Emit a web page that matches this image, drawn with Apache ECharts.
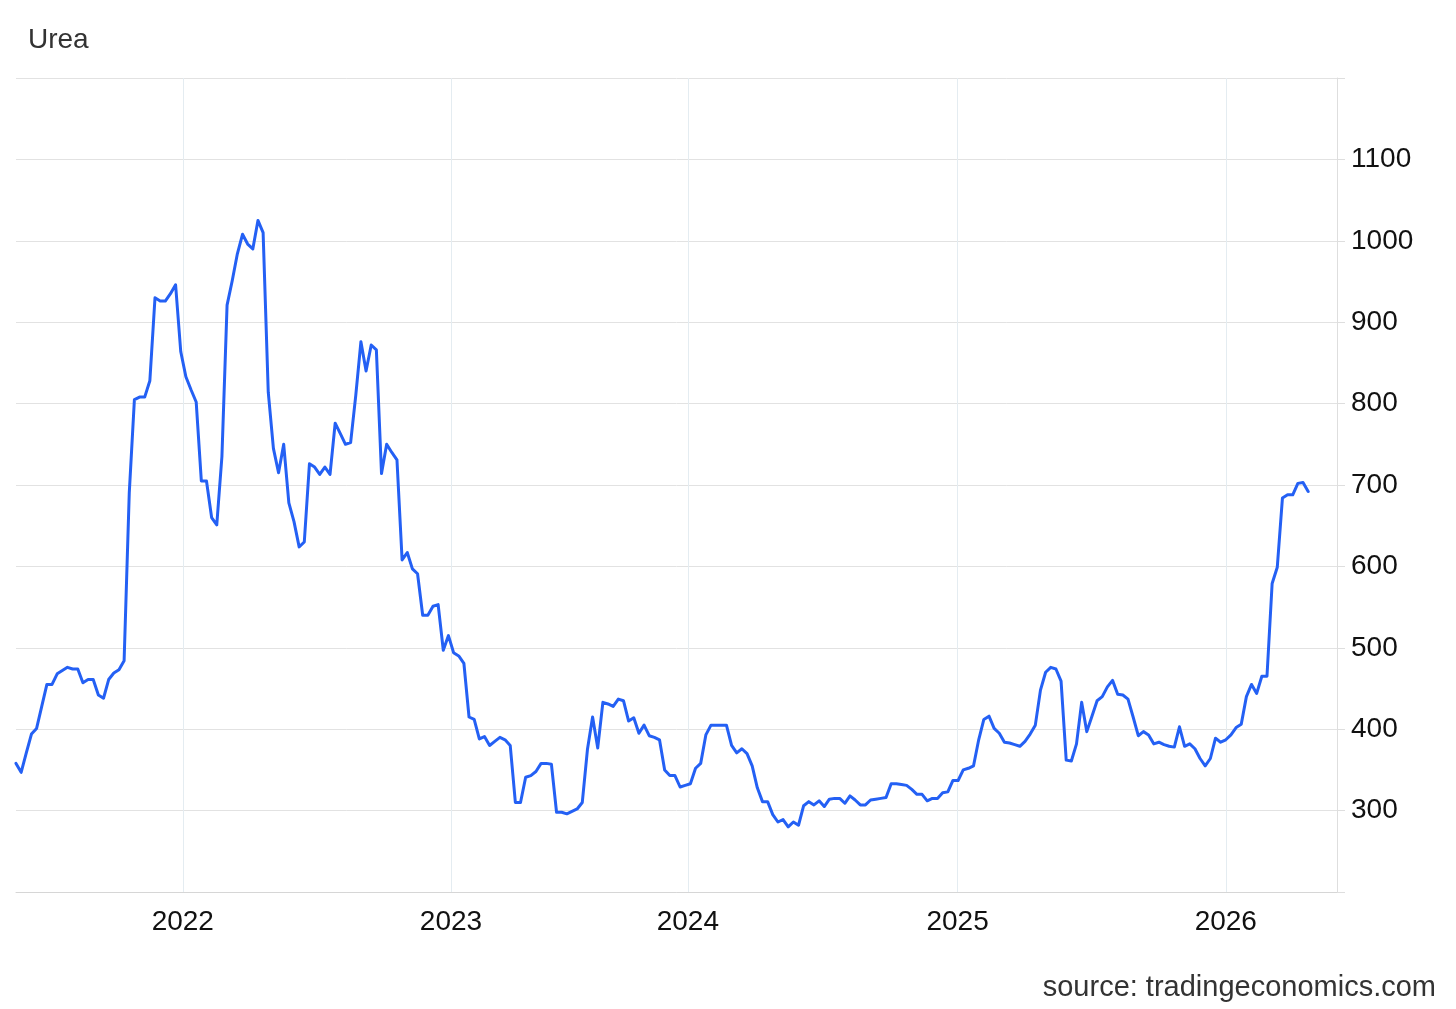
<!DOCTYPE html>
<html>
<head>
<meta charset="utf-8">
<script src="https://cdn.jsdelivr.net/npm/echarts@6/dist/echarts.min.js"></script>
<style>
  html, body { margin: 0; padding: 0; background: #ffffff; }
  #chart { width: 1456px; height: 1009px; }
</style>
</head>
<body>
<div id="chart"></div>
<script>
// ---- data ----
const chartTitle = 'Urea';
const sourceNote = 'source: tradingeconomics.com';

// year boundaries, expressed as ordinal observation positions (the chart spaces observations evenly)
const yearLabels = ['2022', '2023', '2024', '2025', '2026'];
const yearPositions = [32.4, 84.5, 130.5, 182.9, 235.0];
const lastPosition = 256.6;

const yMin = 200;
const yMax = 1200;
const yStep = 100;

// weekly urea prices (USD/T), mid-2021 to April 2026
const ureaPrices = [
  358, 347, 371, 394, 401, 428, 455, 455, 468, 472,
  476, 474, 474, 457, 461, 461, 442, 438, 461, 469,
  473, 484, 690, 805, 808, 808, 828, 930, 926, 926,
  935, 946, 864, 833, 817, 802, 705, 705, 660, 651,
  735, 921, 951, 984, 1008, 996, 990, 1025, 1010, 814,
  745, 715, 750, 678, 655, 624, 630, 726, 722, 713,
  722, 713, 776, 763, 750, 752, 810, 876, 840, 872,
  866, 714, 750, 740, 731, 608, 617, 597, 591, 540,
  540, 551, 553, 497, 515, 494, 490, 481, 415, 412,
  388, 391, 380, 385, 390, 387, 380, 310, 310, 341,
  343, 348, 358, 358, 357, 298, 298, 296, 299, 302,
  310, 375, 415, 377, 433, 431, 428, 437, 435, 410,
  414, 395, 405, 392, 390, 387, 350, 343, 343, 329,
  331, 333, 352, 358, 393, 405, 405, 405, 405, 380,
  371, 376, 370, 355, 328, 311, 311, 295, 286, 289,
  280, 286, 282, 306, 311, 307, 312, 305, 314, 315,
  315, 309, 318, 313, 307, 307, 313, 314, 315, 316,
  333, 333, 332, 331, 326, 320, 320, 312, 315, 315,
  322, 323, 337, 337, 350, 352, 355, 387, 412, 416,
  401, 395, 384, 383, 381, 379, 385, 394, 405, 448,
  470, 476, 474, 459, 362, 361, 382, 433, 397, 416,
  435, 440, 452, 460, 443, 442, 437, 415, 392, 397,
  393, 382, 384, 381, 379, 378, 403, 379, 382, 376,
  364, 355, 364, 389, 384, 387, 393, 402, 406, 440,
  455, 444, 465, 465, 579, 599, 684, 688, 688, 702,
  703, 692
];

// ---- chart ----
const FONT = "'Liberation Sans', Arial, Helvetica, sans-serif";
const chart = echarts.init(document.getElementById('chart'), null, { renderer: 'canvas' });

const option = {
  animation: false,
  backgroundColor: '#ffffff',
  grid: { left: 16, right: 119, top: 78, bottom: 117, containLabel: false },
  graphic: [
    {
      type: 'text', left: 28, top: 26,
      style: { text: chartTitle, fill: '#333333', font: '28px ' + FONT }
    },
    {
      type: 'text', right: 20, top: 973,
      style: { text: sourceNote, fill: '#333333', font: '29px ' + FONT }
    }
  ],
  xAxis: {
    type: 'value',
    min: 0,
    max: lastPosition,
    axisLine: { show: true, onZero: false, lineStyle: { color: '#d6d6d6', width: 1 } },
    axisTick: { show: false, customValues: yearPositions },
    splitLine: { show: true, lineStyle: { color: '#e4ecf1', width: 1 } },
    axisLabel: {
      customValues: yearPositions,
      margin: 16,
      color: '#111111',
      fontSize: 28,
      fontFamily: FONT,
      formatter: function (v) {
        let best = 0;
        for (let k = 1; k < yearPositions.length; k++) {
          if (Math.abs(yearPositions[k] - v) < Math.abs(yearPositions[best] - v)) best = k;
        }
        return yearLabels[best];
      }
    }
  },
  yAxis: {
    type: 'value',
    position: 'right',
    min: yMin,
    max: yMax,
    interval: yStep,
    axisLine: { show: true, onZero: false, lineStyle: { color: '#dedede', width: 1 } },
    axisTick: { show: true, length: 8, lineStyle: { color: '#dedede' } },
    splitLine: { show: true, lineStyle: { color: '#e2e2e2', width: 1 } },
    axisLabel: {
      margin: 14,
      color: '#111111',
      fontSize: 28,
      fontFamily: FONT,
      formatter: function (v) {
        return (v === yMin || v === yMax) ? '' : String(v);
      }
    }
  },
  series: [
    {
      type: 'line',
      name: chartTitle,
      data: ureaPrices.map(function (v, i) { return [i, v]; }),
      showSymbol: false,
      symbol: 'none',
      smooth: false,
      lineStyle: { color: '#2460f4', width: 3, join: 'round', cap: 'round' },
      itemStyle: { color: '#2460f4' }
    }
  ]
};

chart.setOption(option);
</script>
</body>
</html>
